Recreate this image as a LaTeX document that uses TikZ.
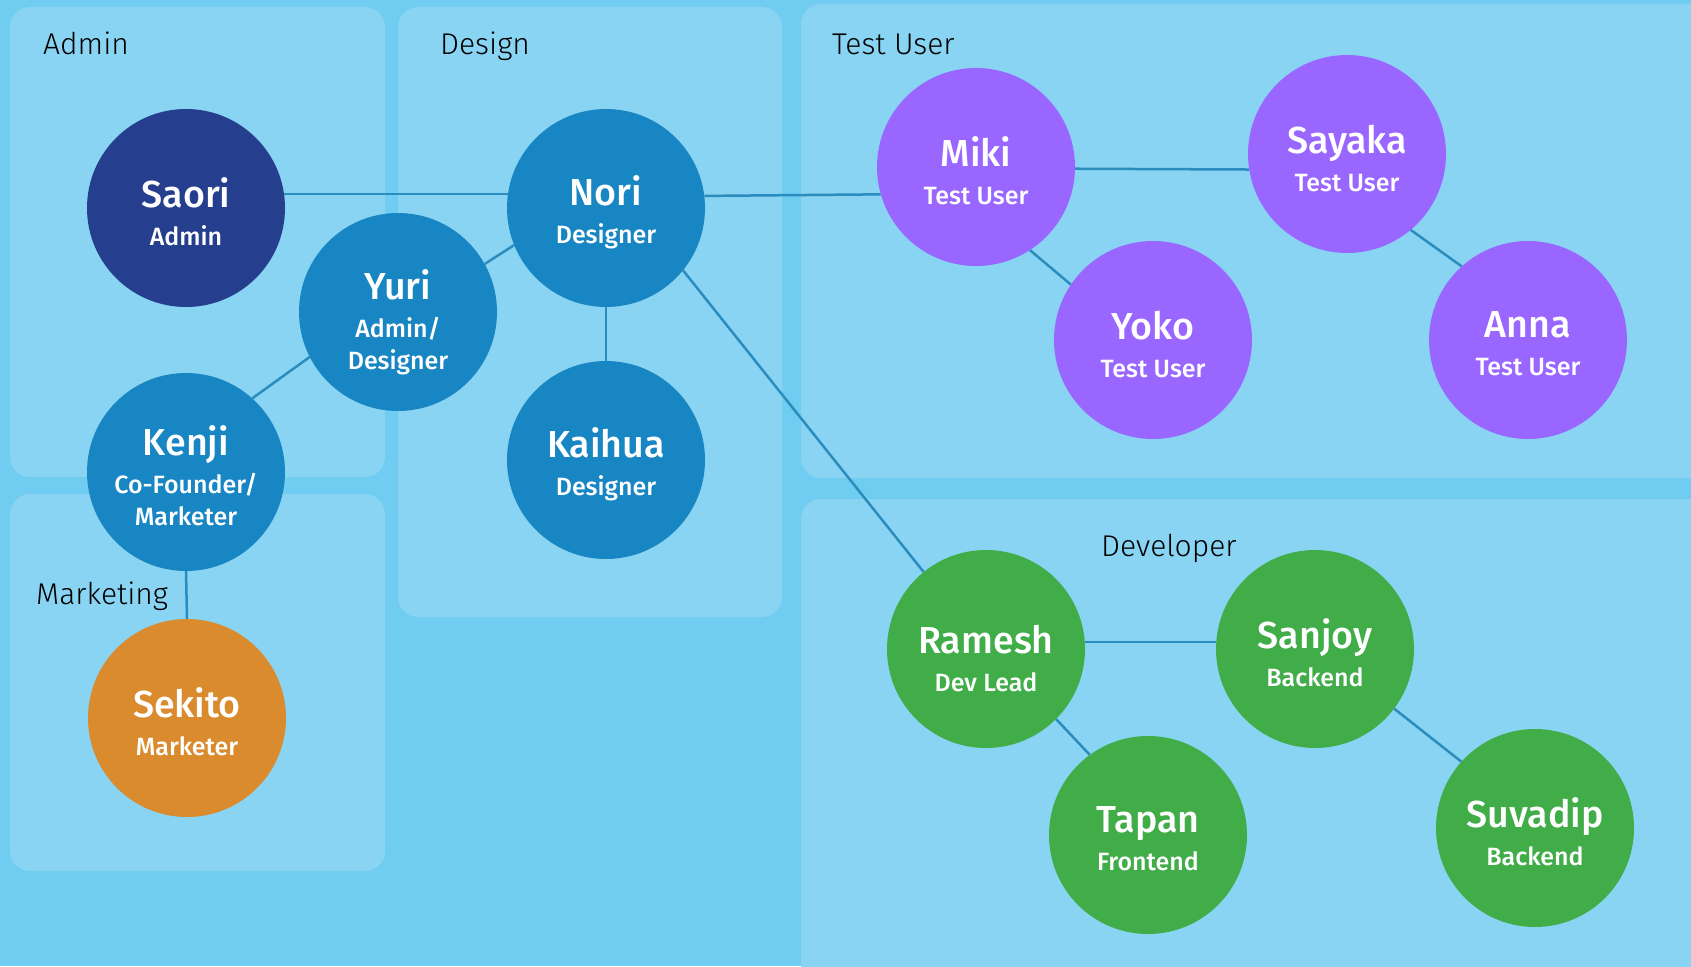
\documentclass[tikz,border=0pt]{standalone}
\usepackage{fontspec}
\setmainfont{Fira Sans}
\newfontfamily\medfont{Fira Sans Medium}
\newfontfamily\lightfont{Fira Sans Light}
\usepackage{tikz}

\definecolor{bgblue}{RGB}{112,204,241}
\definecolor{boxblue}{RGB}{137,212,242}
\definecolor{edgeblue}{RGB}{42,141,190}
\definecolor{navy}{RGB}{37,62,141}
\definecolor{designblue}{RGB}{25,134,196}
\definecolor{userpurple}{RGB}{153,102,255}
\definecolor{devgreen}{RGB}{65,173,73}
\definecolor{mktorange}{RGB}{217,139,45}

\tikzset{
	group/.style={fill=boxblue, rounded corners=20},
	grouplabel/.style={anchor=base west, inner sep=0pt, font=\lightfont\fontsize{30}{36}\selectfont},
	person/.style={circle, fill=#1, minimum size=198, inner sep=0pt},
	who/.style={text=white, align=center, yshift=-4, font=\medfont\fontsize{25}{32}\selectfont},
	link/.style={edgeblue, line width=2.5}
}
\newcommand{\nm}[1]{{\fontsize{37.6}{40}\selectfont #1}}

\begin{document}
\begin{tikzpicture}[x=1pt, y=-1pt]
			\useasboundingbox (0,0) rectangle (1691,966);
			\clip (0,0) rectangle (1691,966);
			\fill[bgblue] (0,0) rectangle (1691,966);
			
			% groups
			\fill[group] (10,7) rectangle (385,477);
			\fill[group] (398,7) rectangle (782,617);
			\fill[group] (10,494) rectangle (385,871);
			\fill[group] (801,4) rectangle (1720,478);
			\fill[group] (801,499) rectangle (1720,1000);
			
			\node[grouplabel] (admin) at (43,55) {Admin};
			\node[grouplabel] (design) at (440,55) {Design};
			\node[grouplabel] (testuser) at (832,55) {Test User};
			\node[grouplabel] (marketing) at (36,604) {Marketing};
			\node[grouplabel] (developer) at (1101,556) {Developer};
			
			% people
			\node[person=navy, label={[who]center:{\nm{Saori}\\[6pt]Admin}}] (saori) at (186,208) {};
			\node[person=designblue, label={[who]center:{\nm{Nori}\\[6pt]Designer}}] (nori) at (606,208) {};
			\node[person=designblue, label={[who, yshift=-6.5]center:{\nm{Yuri}\\[6pt]Admin/\\Designer}}] (yuri) at (398,312) {};
			\node[person=designblue, label={[who]center:{\nm{Kenji}\\[6pt]Co-Founder/\\Marketer}}] (kenji) at (186,472) {};
			\node[person=designblue, label={[who]center:{\nm{Kaihua}\\[6pt]Designer}}] (kaihua) at (606,460) {};
			\node[person=mktorange, label={[who]center:{\nm{Sekito}\\[6pt]Marketer}}] (sekito) at (187,718) {};
			
			\node[person=userpurple, label={[who]center:{\nm{Miki}\\[6pt]Test User}}] (miki) at (976,167) {};
			\node[person=userpurple, label={[who]center:{\nm{Sayaka}\\[6pt]Test User}}] (sayaka) at (1347,154) {};
			\node[person=userpurple, label={[who]center:{\nm{Yoko}\\[6pt]Test User}}] (yoko) at (1153,340) {};
			\node[person=userpurple, label={[who]center:{\nm{Anna}\\[6pt]Test User}}] (anna) at (1528,340) {};
			
			\node[person=devgreen, label={[who, yshift=-5.5]center:{\nm{Ramesh}\\[6pt]Dev Lead}}] (ramesh) at (986,649) {};
			\node[person=devgreen, label={[who]center:{\nm{Sanjoy}\\[6pt]Backend}}] (sanjoy) at (1315,649) {};
			\node[person=devgreen, label={[who]center:{\nm{Tapan}\\[6pt]Frontend}}] (tapan) at (1148,835) {};
			\node[person=devgreen, label={[who]center:{\nm{Suvadip}\\[6pt]Backend}}] (suvadip) at (1535,828) {};
			
			% links
			\draw[link] (saori.8) -- (nori.172);
			\draw[link] (nori.7.5) -- (miki.196);
			\draw[link] (miki.-1) -- (sayaka.189);
			\draw[link] (miki.-57) -- (yoko.146);
			\draw[link] (sayaka.-50) -- (anna.132);
			\draw[link] (nori.202) -- (yuri.29.5);
			\draw[link] (nori.south) -- (kaihua.north);
			\draw[link] (yuri.207) -- (kenji.48);
			\draw[link] (kenji.south) -- (sekito.north);
			\draw[link] (nori.-39) -- (ramesh.129.5);
			\draw[link] (ramesh.4) -- (sanjoy.176);
			\draw[link] (ramesh.-45.6) -- (tapan.126.7);
			\draw[link] (sanjoy.-37.6) -- (suvadip.138.4);
		\end{tikzpicture}
\end{document}
